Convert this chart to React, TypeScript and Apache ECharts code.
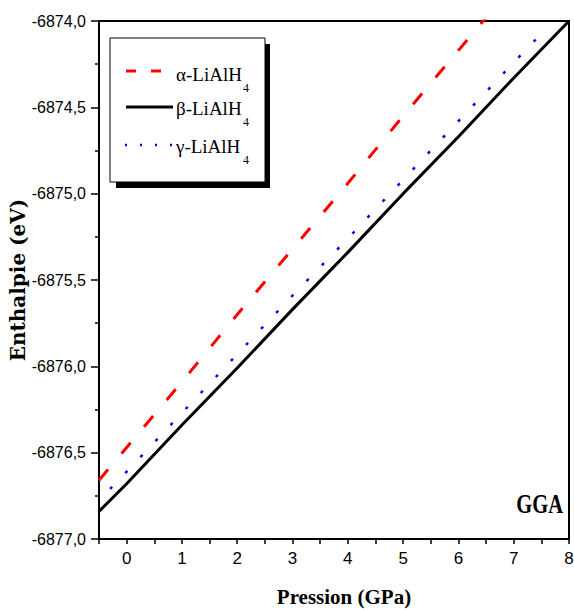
import React, { useEffect, useRef } from "react";
import * as echarts from "echarts";

const alphaP = [-0.5, 0, 1, 2, 3, 4, 5, 6, 6.5];
const alphaH = [-6876.66, -6876.47, -6876.09, -6875.70, -6875.32, -6874.94, -6874.55, -6874.17, -6873.98];
const betaP = [-0.5, 0, 1, 2, 3, 4, 5, 6, 7, 8];
const betaH = [-6876.84, -6876.68, -6876.34, -6876.01, -6875.67, -6875.34, -6875.00, -6874.67, -6874.33, -6874.00];
const gammaP = [-0.3, 0, 1, 2, 3, 4, 5, 6, 7, 7.6];
const gammaH = [-6876.71, -6876.61, -6876.27, -6875.93, -6875.59, -6875.26, -6874.92, -6874.58, -6874.24, -6874.04];

const legendNames = ["α-LiAlH", "β-LiAlH", "γ-LiAlH"];
const legendSub = "4";

const pair = (xs: number[], ys: number[]) => xs.map((x, i) => [x, ys[i]]);

export default function App() {
  const ref = useRef<HTMLDivElement>(null);
  useEffect(() => {
    const chart = echarts.init(ref.current!, null, { renderer: "svg" });
    const tickFont = "'Liberation Sans Narrow', 'Arial Narrow', 'Liberation Sans', sans-serif";
    const serif = "'Liberation Serif', 'Times New Roman', serif";
    chart.setOption({
      animation: false,
      backgroundColor: "#fff",
      grid: {
        left: 99, right: 5, top: 21, bottom: 71,
        containLabel: false,
        outerBoundsMode: "none",
        show: true, borderColor: "#000", borderWidth: 2, backgroundColor: "transparent",
      },
      xAxis: {
        type: "value",
        min: -0.5,
        max: 8,
        interval: 0.5,
        name: "Pression (GPa)",
        nameLocation: "middle",
        nameGap: 47,
        nameMoveOverlap: false,
        nameTextStyle: { fontFamily: serif, fontWeight: "bold", fontSize: 21, color: "#000", padding: [0, 0, 0, 20] },
        axisLine: { show: true, onZero: false, lineStyle: { color: "#000", width: 2 } },
        axisTick: { show: true, inside: false, length: 5, lineStyle: { color: "#000", width: 1.5 } },
        axisLabel: {
          interval: 0,
          margin: 11,
          fontFamily: tickFont,
          fontSize: 17,
          color: "#000",
          formatter: (v: number) => (Math.abs(v - Math.round(v)) < 1e-9 ? String(Math.round(v)) : ""),
        },
        splitLine: { show: false },
      },
      yAxis: {
        type: "value",
        min: -6877,
        max: -6874,
        interval: 0.5,
        name: "Enthalpie (eV)",
        nameLocation: "middle",
        nameGap: 71,
        nameMoveOverlap: false,
        nameTextStyle: { fontFamily: "'DejaVu Serif', serif", fontWeight: "bold", fontSize: 20, color: "#000" },
        axisLine: { show: true, onZero: false, lineStyle: { color: "#000", width: 2 } },
        axisTick: { show: true, inside: false, length: 8, lineStyle: { color: "#000", width: 1.5 } },
        minorTick: { show: true, splitNumber: 2, length: 4, lineStyle: { color: "#000", width: 1.5 } },
        axisLabel: {
          margin: 13,
          fontFamily: tickFont,
          fontSize: 16,
          color: "#000",
          formatter: (v: number) => v.toFixed(1).replace(".", ","),
        },
        splitLine: { show: false },
      },
      series: [
        {
          type: "line",
          name: "alpha",
          data: pair(alphaP, alphaH),
          showSymbol: false,
          clip: true,
          lineStyle: { color: "#ff0000", width: 3, type: [14, 21] },
        },
        {
          type: "line",
          name: "beta",
          data: pair(betaP, betaH),
          showSymbol: false,
          clip: true,
          lineStyle: { color: "#000", width: 3, type: "solid" },
        },
        {
          type: "line",
          name: "gamma",
          data: pair(gammaP, gammaH),
          showSymbol: false,
          clip: true,
          lineStyle: { color: "#0000ff", width: 2.5, type: [3, 19] },
        },
      ],
      graphic: [
        { type: "rect", shape: { x: 116, y: 44, width: 154, height: 144 }, style: { fill: "#000" }, z: 100 },
        { type: "rect", shape: { x: 110, y: 38, width: 155, height: 144 }, style: { fill: "#fff", stroke: "#000", lineWidth: 1 }, z: 101 },
        { type: "line", shape: { x1: 126, y1: 71, x2: 161, y2: 71 }, style: { stroke: "#ff0000", lineWidth: 3, lineDash: [10, 15] }, z: 102 },
        { type: "line", shape: { x1: 126, y1: 107, x2: 173, y2: 107 }, style: { stroke: "#000", lineWidth: 3 }, z: 102 },
        { type: "line", shape: { x1: 125, y1: 145, x2: 173, y2: 145 }, style: { stroke: "#0000ff", lineWidth: 2.5, lineDash: [2, 13] }, z: 102 },
        ...legendNames.flatMap((n, i) => {
          const cy = [74, 108, 146][i];
          return [
            { type: "text", x: 176, y: cy, z: 102, style: { text: n, fontFamily: serif, fontSize: 19, fill: "#000", verticalAlign: "middle", align: "left" } },
            { type: "text", x: 243, y: cy + 14, z: 102, style: { text: legendSub, fontFamily: serif, fontSize: 12, fill: "#000", verticalAlign: "middle", align: "left" } },
          ];
        }),
        { type: "text", x: 563, y: 504, scaleX: 0.76, z: 102, style: { text: "GGA", fontFamily: serif, fontWeight: "bold", fontSize: 27, fill: "#000", align: "right", verticalAlign: "middle" } },
      ],
    });
    return () => chart.dispose();
  }, []);
  return <div ref={ref} style={{ position: "absolute", left: 0, top: 0, width: 574, height: 610 }} />;
}
